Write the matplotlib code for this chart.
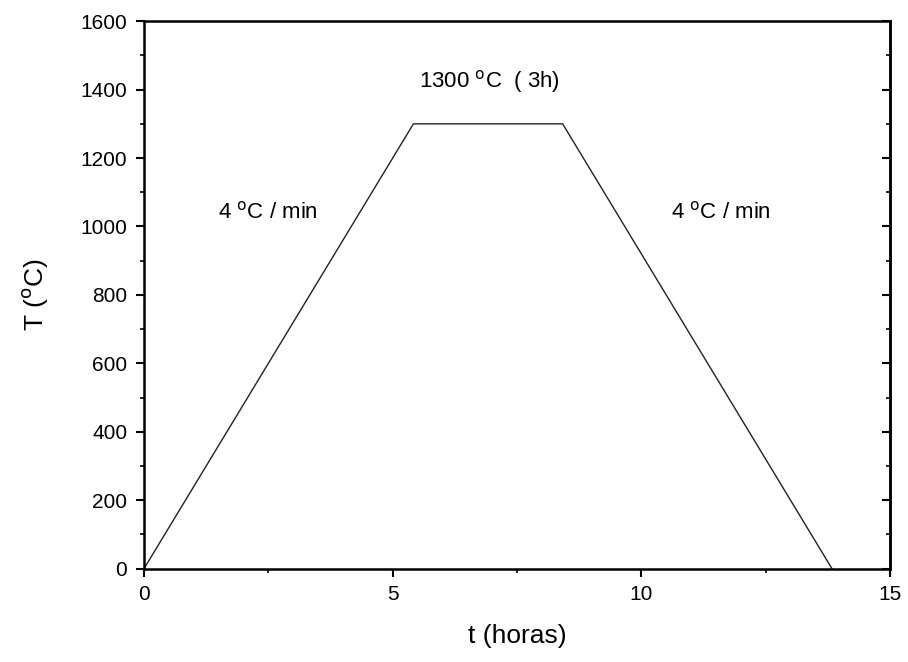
import numpy as np
import matplotlib
matplotlib.use("Agg")
from matplotlib import pyplot as plt
from matplotlib.ticker import MultipleLocator

plt.rcParams['font.family'] = ['Liberation Sans', 'DejaVu Sans']

# heating 4 C/min to 1300, hold 3 h, cooling 4 C/min
time_h = [0, 5.417, 8.417, 13.833]
temp_c = [0, 1300, 1300, 0]

fig = plt.figure(figsize=(9.08, 6.62), dpi=100)
ax = fig.add_axes([0.1586, 0.141, 0.8216, 0.827])

ax.plot(time_h, temp_c, color='#222222', lw=1.0)

ax.set_xlim(0, 15)
ax.set_ylim(0, 1600)
ax.xaxis.set_major_locator(MultipleLocator(5))
ax.xaxis.set_minor_locator(MultipleLocator(2.5))
ax.yaxis.set_major_locator(MultipleLocator(200))
ax.yaxis.set_minor_locator(MultipleLocator(100))

ax.tick_params(axis='both', which='major', labelsize=15, length=6, width=1.5,
               direction='out', pad=6)
ax.tick_params(axis='both', which='minor', length=3, width=1.2, direction='out')

# mirrored ticks on the right side point inward
ax2 = ax.secondary_yaxis('right')
ax2.yaxis.set_major_locator(MultipleLocator(200))
ax2.yaxis.set_minor_locator(MultipleLocator(100))
ax2.tick_params(which='major', direction='in', length=6, width=1.5, labelright=False)
ax2.tick_params(which='minor', direction='in', length=3, width=1.2)
ax2.spines['right'].set_linewidth(1.8)

for s in ax.spines.values():
    s.set_linewidth(1.8)

ax.set_xlabel('t (horas)', fontsize=19, labelpad=14)
ax.set_ylabel('T ($^{\\rm o}$C)', fontsize=19, labelpad=22)

ax.text(2.5, 1040, '4 $^{\\rm o}$C / min', fontsize=16, ha='center', va='center')
ax.text(11.6, 1040, '4 $^{\\rm o}$C / min', fontsize=16, ha='center', va='center')
ax.text(6.95, 1425, '1300 $^{\\rm o}$C  ( 3h)', fontsize=16, ha='center', va='center')

fig.savefig('out.png', dpi=100)
